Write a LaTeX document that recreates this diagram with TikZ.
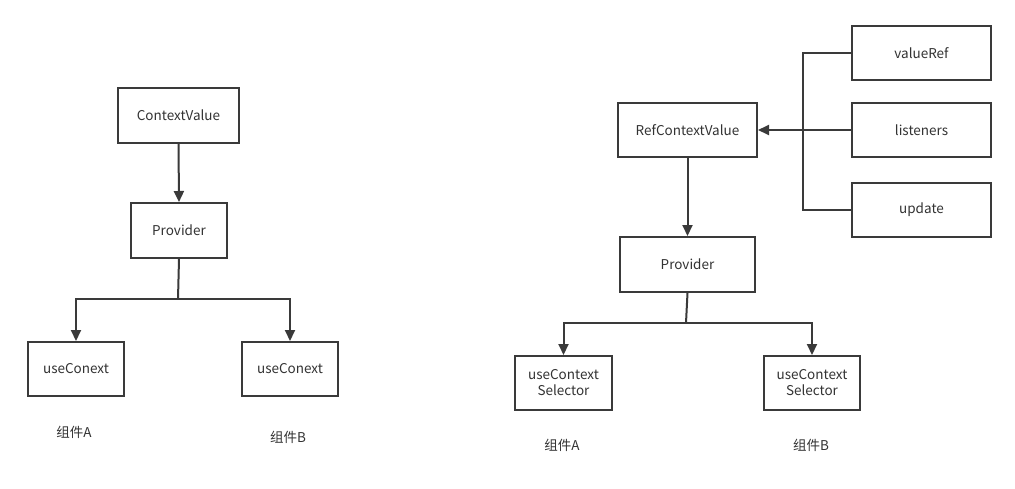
\documentclass[tikz,border=0pt]{standalone}
\usepackage{fontspec}
\setmainfont{Noto Sans CJK SC}
\usetikzlibrary{arrows.meta}
\definecolor{ln}{HTML}{3A3A3A}
\definecolor{tx}{HTML}{333333}
\begin{document}
\begin{tikzpicture}[x=1pt,y=-1pt,
  box/.style={draw=ln,line width=2pt,fill=white,inner sep=0pt,anchor=north west,
    font=\fontsize{13.5}{16}\selectfont,text=tx,align=center},
  lbl/.style={font=\fontsize{13.5}{16}\selectfont,text=tx,inner sep=0pt},
  conn/.style={draw=ln,line width=2pt},
  arr/.style={conn,-{Triangle[length=11pt,width=10pt]}}]
\useasboundingbox[fill=white] (0,0) rectangle (1015,488);
% left diagram
\node[box,minimum width=121pt,minimum height=55pt] (cv) at (117,87) {ContextValue};
\node[box,minimum width=96pt,minimum height=55pt] (p1) at (130,202) {Provider};
\node[box,minimum width=96pt,minimum height=54pt] (ua) at (27,341) {useConext};
\node[box,minimum width=96pt,minimum height=54pt] (ub) at (241,341) {useConext};
\node[lbl] (la) at (74,432) {组件A};
\node[lbl] (lb) at (288,437) {组件B};
\draw[arr] (cv.south) -- (p1.north);
\coordinate (j1) at (178,299);
\draw[conn] (p1.south) -- (j1);
\draw[arr] (j1) -| (ua.north);
\draw[arr] (j1) -| (ub.north);
% right diagram
\node[box,minimum width=139pt,minimum height=54pt] (rcv) at (617,102) {RefContextValue};
\node[box,minimum width=139pt,minimum height=54pt] (vr) at (851,25) {valueRef};
\node[box,minimum width=139pt,minimum height=54pt] (ls) at (851,102) {listeners};
\node[box,minimum width=139pt,minimum height=54pt] (up) at (851,182) {update};
\node[box,minimum width=135pt,minimum height=55pt] (p2) at (619,236) {Provider};
\node[box,minimum width=97pt,minimum height=54pt] (sa) at (514,355) {useContext\\Selector};
\node[box,minimum width=96pt,minimum height=54pt] (sb) at (763,355) {useContext\\Selector};
\node[lbl] (la2) at (562,445) {组件A};
\node[lbl] (lb2) at (811,445) {组件B};
\coordinate (bus) at (803,129);
\draw[conn] (vr.west) -| (bus);
\draw[conn] (up.west) -| (bus);
\draw[arr] (ls.west) -- (rcv.east);
\draw[arr] (rcv.south) -- (rcv.south |- p2.north);
\coordinate (j2) at (686,323);
\draw[conn] (p2.south) -- (j2);
\draw[arr] (j2) -| (sa.north);
\draw[arr] (j2) -| (sb.north);
\end{tikzpicture}
\end{document}
